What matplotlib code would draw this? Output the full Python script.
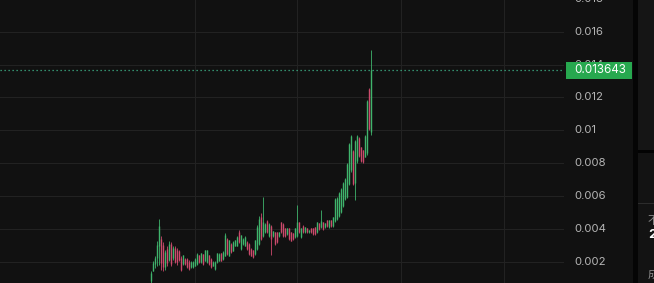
import matplotlib
matplotlib.use("Agg")
import numpy as np
import matplotlib.pyplot as plt
from matplotlib.patches import Rectangle
from matplotlib.transforms import blended_transform_factory

# candle data, oldest -> newest
opens = [0.00080, 0.00141, 0.00185, 0.00220, 0.00295, 0.00340, 0.00300, 0.00170, 0.00280, 0.00210,
         0.00305, 0.00220, 0.00285, 0.00270, 0.00265, 0.00225, 0.00185, 0.00218, 0.00215, 0.00200,
         0.00165, 0.00168, 0.00175, 0.00185, 0.00240, 0.00195, 0.00244, 0.00205, 0.00196, 0.00240,
         0.00218, 0.00174, 0.00155, 0.00196, 0.00205, 0.00250, 0.00215, 0.00236, 0.00340, 0.00236,
         0.00310, 0.00266, 0.00296, 0.00296, 0.00380, 0.00276, 0.00306, 0.00296, 0.00320, 0.00310,
         0.00280, 0.00270, 0.00246, 0.00280, 0.00310, 0.00470, 0.00356, 0.00380, 0.00450, 0.00356,
         0.00420, 0.00355, 0.00378, 0.00378, 0.00355, 0.00440, 0.00430, 0.00404, 0.00366, 0.00404,
         0.00378, 0.00372, 0.00348, 0.00356, 0.00440, 0.00348, 0.00420, 0.00378, 0.00404, 0.00378,
         0.00404, 0.00404, 0.00410, 0.00380, 0.00434, 0.00410, 0.00440, 0.00409, 0.00452, 0.00410,
         0.00452, 0.00416, 0.00446, 0.00460, 0.00480, 0.00502, 0.00540, 0.00580, 0.00595, 0.00675,
         0.00755, 0.00875, 0.00680, 0.00810, 0.00955, 0.00895, 0.00878, 0.00840, 0.00860, 0.01250,
         0.00990]
highs = [0.00141, 0.00202, 0.00232, 0.00323, 0.00461, 0.00354, 0.00317, 0.00273, 0.00293, 0.00323,
         0.00317, 0.00293, 0.00293, 0.00283, 0.00273, 0.00232, 0.00243, 0.00222, 0.00222, 0.00207,
         0.00202, 0.00202, 0.00222, 0.00253, 0.00243, 0.00253, 0.00247, 0.00273, 0.00273, 0.00243,
         0.00222, 0.00202, 0.00202, 0.00253, 0.00250, 0.00253, 0.00263, 0.00374, 0.00344, 0.00334,
         0.00314, 0.00323, 0.00334, 0.00354, 0.00395, 0.00364, 0.00344, 0.00354, 0.00323, 0.00314,
         0.00283, 0.00273, 0.00334, 0.00425, 0.00475, 0.00498, 0.00595, 0.00437, 0.00455, 0.00437,
         0.00425, 0.00388, 0.00382, 0.00382, 0.00382, 0.00443, 0.00437, 0.00407, 0.00407, 0.00407,
         0.00382, 0.00376, 0.00407, 0.00547, 0.00443, 0.00407, 0.00425, 0.00413, 0.00407, 0.00395,
         0.00407, 0.00407, 0.00413, 0.00443, 0.00437, 0.00516, 0.00443, 0.00437, 0.00455, 0.00455,
         0.00455, 0.00474, 0.00589, 0.00595, 0.00626, 0.00650, 0.00686, 0.00711, 0.00802, 0.00924,
         0.00972, 0.00881, 0.00942, 0.00972, 0.00960, 0.00899, 0.00881, 0.00972, 0.01185, 0.01258,
         0.01489]
lows = [0.00060, 0.00141, 0.00162, 0.00171, 0.00182, 0.00151, 0.00141, 0.00151, 0.00171, 0.00202,
        0.00171, 0.00212, 0.00192, 0.00182, 0.00202, 0.00141, 0.00182, 0.00182, 0.00162, 0.00151,
        0.00162, 0.00162, 0.00171, 0.00182, 0.00192, 0.00192, 0.00182, 0.00202, 0.00192, 0.00182,
        0.00162, 0.00171, 0.00151, 0.00192, 0.00202, 0.00202, 0.00212, 0.00232, 0.00243, 0.00232,
        0.00253, 0.00263, 0.00293, 0.00293, 0.00314, 0.00273, 0.00303, 0.00293, 0.00273, 0.00243,
        0.00232, 0.00222, 0.00243, 0.00273, 0.00303, 0.00334, 0.00352, 0.00376, 0.00376, 0.00352,
        0.00243, 0.00352, 0.00303, 0.00314, 0.00352, 0.00376, 0.00352, 0.00352, 0.00364, 0.00334,
        0.00323, 0.00334, 0.00344, 0.00352, 0.00376, 0.00344, 0.00376, 0.00376, 0.00376, 0.00376,
        0.00376, 0.00364, 0.00364, 0.00376, 0.00395, 0.00407, 0.00395, 0.00407, 0.00413, 0.00407,
        0.00413, 0.00413, 0.00443, 0.00455, 0.00474, 0.00498, 0.00534, 0.00577, 0.00589, 0.00668,
        0.00747, 0.00668, 0.00577, 0.00802, 0.00838, 0.00808, 0.00802, 0.00838, 0.00851, 0.01003,
        0.00972]
closes = [0.00130, 0.00190, 0.00225, 0.00300, 0.00420, 0.00190, 0.00170, 0.00260, 0.00190, 0.00310,
          0.00185, 0.00285, 0.00200, 0.00195, 0.00210, 0.00150, 0.00238, 0.00186, 0.00168, 0.00158,
          0.00198, 0.00200, 0.00218, 0.00248, 0.00195, 0.00250, 0.00186, 0.00268, 0.00270, 0.00186,
          0.00166, 0.00200, 0.00198, 0.00250, 0.00246, 0.00206, 0.00260, 0.00360, 0.00248, 0.00330,
          0.00256, 0.00320, 0.00330, 0.00350, 0.00318, 0.00360, 0.00340, 0.00350, 0.00276, 0.00246,
          0.00236, 0.00226, 0.00330, 0.00410, 0.00460, 0.00340, 0.00440, 0.00432, 0.00380, 0.00432,
          0.00340, 0.00385, 0.00310, 0.00320, 0.00380, 0.00380, 0.00356, 0.00356, 0.00404, 0.00338,
          0.00326, 0.00338, 0.00404, 0.00440, 0.00380, 0.00404, 0.00380, 0.00410, 0.00378, 0.00393,
          0.00378, 0.00366, 0.00368, 0.00440, 0.00398, 0.00445, 0.00398, 0.00435, 0.00416, 0.00452,
          0.00416, 0.00470, 0.00580, 0.00590, 0.00620, 0.00645, 0.00680, 0.00705, 0.00795, 0.00915,
          0.00965, 0.00675, 0.00935, 0.00965, 0.00842, 0.00812, 0.00806, 0.00968, 0.01180, 0.01010,
          0.013643]

last_price = 0.013643
last_label = '0.013643'
price_ticks = [0.002, 0.004, 0.006, 0.008, 0.010, 0.012, 0.014, 0.016, 0.018]
price_labels = ['0.002', '0.004', '0.006', '0.008', '0.01', '0.012', '0.014', '0.016', '0.018']
time_grid = [22, 73, 125, 177]   # candle index of the vertical grid lines

# side panel texts (cut off by the right edge)
side_label1 = '不可交易'
side_value = '2'
side_label2 = '成交额'

BG = '#111111'
GRID = '#222222'
UP = '#3fb46c'
DOWN = '#cc4a6c'
TXT = '#b4b4b4'

W, H = 654, 283
fig = plt.figure(figsize=(W / 100, H / 100), dpi=100, facecolor=BG)
ax = fig.add_axes([0, 0, 564 / W, 1], facecolor=BG)
ax.set_xlim(-76.0, 207.0)
ax.set_ylim(0.0007, 0.01793)
for s in ax.spines.values():
    s.set_visible(False)
ax.set_xticks([])
ax.set_yticks([])

# grid
for p in price_ticks:
    ax.axhline(p, color=GRID, lw=0.8, zorder=0)
for t in time_grid:
    ax.axvline(t, color=GRID, lw=0.8, zorder=0)

# candles
o = np.array(opens)
c = np.array(closes)
x = np.arange(len(c))
cols = np.where(c >= o, UP, DOWN)
ax.vlines(x, lows, highs, colors=cols, lw=0.6, zorder=2)
ax.vlines(x, np.minimum(o, c), np.maximum(o, c), colors=cols, lw=1.0, zorder=3)

# last price line
ax.axhline(last_price, color='#3fb68b', lw=0.9, ls=(0, (1, 2.2)), zorder=4)

# price scale labels
tr = blended_transform_factory(ax.transAxes, ax.transData)
for p, lab in zip(price_ticks, price_labels):
    ax.text(574 / 564, p, lab, transform=tr, color=TXT, fontsize=8.2,
            family='Inter', va='center', ha='left', clip_on=False, zorder=5)

box_h = 17 / 16430
ax.add_patch(Rectangle((566 / 564, last_price - box_h / 2), 66 / 564, box_h,
                       transform=tr, facecolor='#27a84f', edgecolor='none',
                       clip_on=False, zorder=6))
ax.text(574 / 564, last_price, last_label, transform=tr, color='white', fontsize=8.4,
        family='Inter', va='center', ha='left', clip_on=False, zorder=7)


# right side panel, in pixel coords
def px_rect(x0, y0, w, h, color):
    fig.add_artist(Rectangle((x0 / W, 1 - (y0 + h) / H), w / W, h / H,
                             transform=fig.transFigure, facecolor=color,
                             edgecolor='none', zorder=10))


px_rect(633, 0, 5, H, '#050505')
px_rect(638, 0, 16, 150, '#151515')
px_rect(638, 150, 16, 3, '#030303')
px_rect(638, 153, 16, H - 153, '#131313')
px_rect(638, 203, 16, 1, '#2c2c2c')

cjk = ['Noto Sans CJK SC', 'DejaVu Sans']
fig.text(648 / W, 1 - 221 / H, side_label1, color='#8a8a8a', fontsize=8,
         family=cjk, va='center', ha='left', zorder=11)
fig.text(648 / W, 1 - 235 / H, side_value, color='white', fontsize=9.5,
         fontweight='bold', family='Inter', va='center', ha='left', zorder=11)
fig.text(648 / W, 1 - 274 / H, side_label2, color='#8a8a8a', fontsize=8,
         family=cjk, va='center', ha='left', zorder=11)

fig.savefig('out.png', dpi=100, facecolor=BG)
